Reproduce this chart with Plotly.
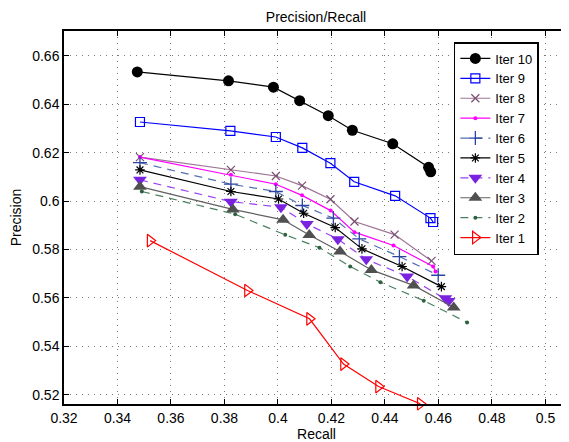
import plotly.graph_objects as go

# ---------------- data ----------------
iter10_x = [0.3474, 0.3815, 0.3983, 0.4081, 0.4188, 0.4278, 0.4429, 0.4563, 0.4571]
iter10_y = [0.6534, 0.6497, 0.6471, 0.6415, 0.6353, 0.6293, 0.6237, 0.6140, 0.6121]

iter9_x = [0.3484, 0.3822, 0.3992, 0.4091, 0.4196, 0.4285, 0.4438, 0.4570, 0.4580]
iter9_y = [0.6327, 0.6290, 0.6265, 0.6220, 0.6157, 0.6080, 0.6022, 0.5930, 0.5914]

iter8_x = [0.3484, 0.3824, 0.3992, 0.4090, 0.4196, 0.4286, 0.4436, 0.4574]
iter8_y = [0.6182, 0.6129, 0.6104, 0.6064, 0.6008, 0.5916, 0.5862, 0.5753]

iter7_x = [0.3484, 0.3824, 0.3992, 0.4090, 0.4197, 0.4286, 0.4432, 0.4580, 0.4589]
iter7_y = [0.6182, 0.6109, 0.6070, 0.6024, 0.5961, 0.5872, 0.5817, 0.5730, 0.5709]

iter6_x = [0.3484, 0.3824, 0.3992, 0.4091, 0.4207, 0.4304, 0.4454, 0.4599]
iter6_y = [0.6159, 0.6070, 0.6040, 0.5982, 0.5930, 0.5844, 0.5771, 0.5694]

iter5_x = [0.3484, 0.3824, 0.4002, 0.4096, 0.4214, 0.4314, 0.4464, 0.4611]
iter5_y = [0.6129, 0.6040, 0.6009, 0.5950, 0.5891, 0.5803, 0.5730, 0.5647]

iter4_x = [0.3484, 0.3824, 0.4011, 0.4108, 0.4224, 0.4330, 0.4483, 0.4626, 0.4638]
iter4_y = [0.6088, 0.5998, 0.5975, 0.5906, 0.5843, 0.5760, 0.5689, 0.5599, 0.5588]

iter3_x = [0.3484, 0.3831, 0.4019, 0.4117, 0.4232, 0.4349, 0.4507, 0.4657]
iter3_y = [0.6060, 0.5966, 0.5923, 0.5860, 0.5792, 0.5716, 0.5652, 0.5561]

iter2_x = [0.3491, 0.3840, 0.4027, 0.4155, 0.4270, 0.4383, 0.4545, 0.4707]
iter2_y = [0.6040, 0.5946, 0.5861, 0.5808, 0.5730, 0.5665, 0.5589, 0.5499]

iter1_x = [0.3522, 0.3886, 0.4118, 0.4245, 0.4376, 0.4532]
iter1_y = [0.5837, 0.5631, 0.5514, 0.5327, 0.5234, 0.5163]

x_tick_vals = [0.32, 0.34, 0.36, 0.38, 0.40, 0.42, 0.44, 0.46, 0.48, 0.50]
x_tick_text = ["0.32", "0.34", "0.36", "0.38", "0.4", "0.42", "0.44", "0.46", "0.48", "0.5"]
y_tick_vals = [0.52, 0.54, 0.56, 0.58, 0.60, 0.62, 0.64, 0.66]
y_tick_text = ["0.52", "0.54", "0.56", "0.58", "0.6", "0.62", "0.64", "0.66"]

# ---------------- styles ----------------
series = [
    ("Iter 10", iter10_x, iter10_y, dict(color="#000000", width=1.2), dict(symbol="circle", size=11, color="#000000")),
    ("Iter 9", iter9_x, iter9_y, dict(color="#0000ff", width=1.2), dict(symbol="square-open", size=9, color="#0000ff", line=dict(width=1.2, color="#0000ff"))),
    ("Iter 8", iter8_x, iter8_y, dict(color="#9c7494", width=1.2), dict(symbol="x-thin-open", size=8, color="#7a4e72", line=dict(width=1.2, color="#7a4e72"))),
    ("Iter 7", iter7_x, iter7_y, dict(color="#ff00ff", width=1.2), dict(symbol="circle", size=4, color="#ff00ff")),
    ("Iter 6", iter6_x, iter6_y, dict(color="#5070b0", width=1.2, dash="8px,6px"), dict(symbol="cross-thin-open", size=10, color="#2a44a0", line=dict(width=1.3, color="#2a44a0"))),
    ("Iter 5", iter5_x, iter5_y, dict(color="#000000", width=1.2), dict(symbol="asterisk-open", size=8, color="#000000", line=dict(width=1.2, color="#000000"))),
    ("Iter 4", iter4_x, iter4_y, dict(color="#9a40f0", width=1.2, dash="8px,6px"), dict(symbol="triangle-down", size=12, color="#7a22e0", line=dict(width=0))),
    ("Iter 3", iter3_x, iter3_y, dict(color="#606060", width=1.2), dict(symbol="triangle-up", size=12, color="#505050", line=dict(width=0))),
    ("Iter 2", iter2_x, iter2_y, dict(color="#4a8060", width=1.2, dash="8px,6px"), dict(symbol="circle", size=4, color="#2e6040")),
    ("Iter 1", iter1_x, iter1_y, dict(color="#ff0000", width=1.2), dict(symbol="triangle-right-open", size=11, color="#ff0000", line=dict(width=1.2, color="#ff0000"))),
]

fig = go.Figure()
for name, xs, ys, line, marker in series:
    fig.add_trace(go.Scatter(x=xs, y=ys, name=name, mode="lines+markers",
                             line=line, marker=marker, cliponaxis=False))

font_family = "Liberation Sans, Arial, Helvetica, sans-serif"

# the page body has an 8px margin, so the figure is sized/offset to compensate
fig.update_layout(
    width=561, height=434,
    margin=dict(l=56, r=0, t=23, b=38),
    paper_bgcolor="white", plot_bgcolor="white",
    font=dict(family=font_family, size=14, color="#000000"),
    title=dict(text="Precision/Recall", x=0.549, xanchor="center", y=0.979, yanchor="middle",
               font=dict(size=14)),
    showlegend=True,
    legend=dict(x=0.772, y=0.9705, xanchor="left", yanchor="top",
                bgcolor="white", bordercolor="#000000", borderwidth=1.5,
                font=dict(size=13), tracegroupgap=0),
)

fig.update_xaxes(
    range=[0.32, 0.5088], tickvals=x_tick_vals, ticktext=x_tick_text,
    showgrid=True, gridcolor="#777777", griddash="1px,5px", gridwidth=1,
    zeroline=False, showline=True, linecolor="#000000", linewidth=1.5,
    mirror="ticks", ticks="inside", ticklen=5, tickcolor="#000000", tickwidth=1,
    title=dict(text="Recall", standoff=3, font=dict(size=14)),
    tickfont=dict(size=14),
)
fig.update_yaxes(
    range=[0.5162, 0.6703], tickvals=y_tick_vals, ticktext=y_tick_text,
    showgrid=True, gridcolor="#777777", griddash="1px,5px", gridwidth=1,
    zeroline=False, showline=True, linecolor="#000000", linewidth=1.5,
    mirror=False, ticks="inside", ticklen=5, tickcolor="#000000", tickwidth=1,
    title=dict(text="Precision", standoff=11, font=dict(size=14)),
    tickfont=dict(size=14),
)

fig.write_html("out.html")
